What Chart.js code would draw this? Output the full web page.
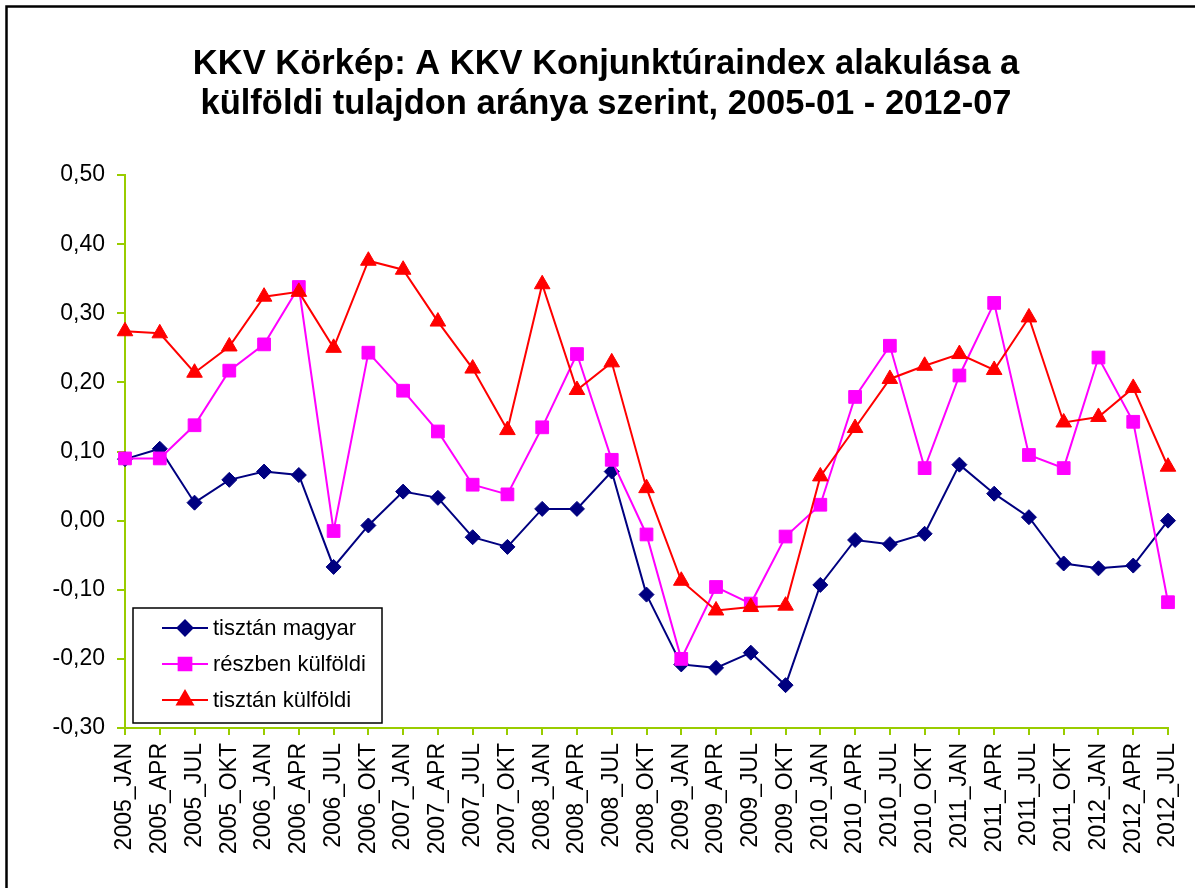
<!DOCTYPE html>
<html>
<head>
<meta charset="utf-8">
<script src="https://cdn.jsdelivr.net/npm/chart.js@4/dist/chart.umd.min.js"></script>
<style>
  html, body { margin: 0; padding: 0; background: #fff; }
  canvas { display: block; }
</style>
</head>
<body>
<canvas id="chart" width="1195" height="888"></canvas>
<script>
const categories = [
  "2005_JAN", "2005_APR", "2005_JUL", "2005_OKT",
  "2006_JAN", "2006_APR", "2006_JUL", "2006_OKT",
  "2007_JAN", "2007_APR", "2007_JUL", "2007_OKT",
  "2008_JAN", "2008_APR", "2008_JUL", "2008_OKT",
  "2009_JAN", "2009_APR", "2009_JUL", "2009_OKT",
  "2010_JAN", "2010_APR", "2010_JUL", "2010_OKT",
  "2011_JAN", "2011_APR", "2011_JUL", "2011_OKT",
  "2012_JAN", "2012_APR", "2012_JUL",
];

const tisztanMagyar = [
  0.089, 0.104, 0.026, 0.059,
  0.071, 0.066, -0.067, -0.007,
  0.042, 0.033, -0.024, -0.038,
  0.017, 0.017, 0.071, -0.107,
  -0.208, -0.213, -0.191, -0.238,
  -0.093, -0.028, -0.034, -0.019,
  0.081, 0.039, 0.005, -0.062,
  -0.069, -0.065, 0.0,
];

const reszbenKulfoldi = [
  0.09, 0.09, 0.138, 0.217,
  0.255, 0.338, -0.015, 0.243,
  0.188, 0.129, 0.052, 0.038,
  0.135, 0.241, 0.088, -0.02,
  -0.2, -0.096, -0.12, -0.023,
  0.023, 0.179, 0.253, 0.076,
  0.21, 0.315, 0.095, 0.076,
  0.236, 0.143, -0.118,
];

const tisztanKulfoldi = [
  0.274, 0.271, 0.214, 0.252,
  0.324, 0.331, 0.25, 0.376,
  0.363, 0.288, 0.22, 0.131,
  0.342, 0.189, 0.229, 0.047,
  -0.087, -0.13, -0.125, -0.123,
  0.064, 0.134, 0.205, 0.224,
  0.241, 0.218, 0.294, 0.142,
  0.15, 0.192, 0.078,
];

const yMin = -0.3;
const yMax = 0.5;
const yStep = 0.1;

const titleLines = [
  "KKV Körkép: A KKV Konjunktúraindex alakulása a",
  "külföldi tulajdon aránya szerint, 2005-01 - 2012-07",
];

const axisColor = "#99cc00";
const fontFamily = "Arial, 'Liberation Sans', sans-serif";

Chart.defaults.font.family = fontFamily;
Chart.defaults.color = "#000";

const series = [
  { label: "tisztán magyar", data: tisztanMagyar, color: "#000080", pointStyle: "rectRot", radius: 7.5, order: 3 },
  { label: "részben külföldi", data: reszbenKulfoldi, color: "#ff00ff", pointStyle: "rect", radius: 9, order: 2 },
  { label: "tisztán külföldi", data: tisztanKulfoldi, color: "#ff0000", pointStyle: "triangle", radius: 9, order: 1 },
];

// outer frame of the chart object
const framePlugin = {
  id: "frame",
  beforeDraw(chart) {
    const ctx = chart.ctx;
    ctx.save();
    ctx.fillStyle = "#fff";
    ctx.fillRect(0, 0, chart.width, chart.height);
    ctx.strokeStyle = "#000";
    ctx.lineWidth = 2.5;
    ctx.strokeRect(6.5, 6.5, 1400, 1200);
    ctx.restore();
  },
};

// legend box inside the plot area, bottom left
const boxLegendPlugin = {
  id: "boxLegend",
  afterDatasetsDraw(chart) {
    const { ctx, chartArea } = chart;
    const x0 = chartArea.left + 8;
    const y0 = chartArea.bottom - 120;
    const w = 249;
    const h = 115;
    ctx.save();
    ctx.fillStyle = "#fff";
    ctx.fillRect(x0, y0, w, h);
    ctx.strokeStyle = "#000";
    ctx.lineWidth = 1.5;
    ctx.strokeRect(x0, y0, w, h);

    ctx.font = "22px " + fontFamily;
    ctx.textBaseline = "middle";
    ctx.textAlign = "left";
    series.forEach((s, i) => {
      const y = y0 + 20 + i * 36;
      ctx.strokeStyle = s.color;
      ctx.lineWidth = 2;
      ctx.beginPath();
      ctx.moveTo(x0 + 29, y);
      ctx.lineTo(x0 + 75, y);
      ctx.stroke();
      ctx.fillStyle = s.color;
      Chart.helpers.drawPoint(ctx, {
        pointStyle: s.pointStyle,
        radius: s.radius,
        rotation: 0,
        borderWidth: 1,
      }, x0 + 52, y);
      ctx.fill();
      ctx.fillStyle = "#000";
      ctx.fillText(s.label, x0 + 80, y + 1);
    });
    ctx.restore();
  },
};

new Chart(document.getElementById("chart"), {
  type: "line",
  data: {
    labels: categories,
    datasets: series.map((s) => ({
      label: s.label,
      data: s.data,
      borderColor: s.color,
      backgroundColor: s.color,
      borderWidth: 2,
      pointStyle: s.pointStyle,
      pointRadius: s.radius,
      pointBackgroundColor: s.color,
      pointBorderColor: s.color,
      pointBorderWidth: 1,
      tension: 0,
      fill: false,
      clip: false,
      order: s.order,
    })),
  },
  options: {
    responsive: false,
    animation: false,
    devicePixelRatio: 1,
    layout: {
      padding: { left: 44, right: 27, top: 0, bottom: 0 },
    },
    plugins: {
      legend: { display: false },
      tooltip: { enabled: false },
      title: {
        display: true,
        text: titleLines,
        color: "#000",
        font: { size: 34.5, weight: "bold", lineHeight: 1.16 },
        padding: { top: 44, bottom: 51 },
      },
    },
    scales: {
      x: {
        offset: false,
        afterFit: (scale) => {
          scale.height = 160;
          scale.paddingLeft = 0;
          scale.paddingRight = 0;
        },
        border: { display: true, color: axisColor, width: 2 },
        grid: {
          drawOnChartArea: false,
          drawTicks: true,
          tickLength: 7,
          color: axisColor,
          lineWidth: 2,
        },
        ticks: {
          autoSkip: false,
          maxRotation: 90,
          minRotation: 90,
          padding: 8,
          color: "#000",
          font: { size: 23 },
        },
      },
      y: {
        min: yMin,
        max: yMax,
        afterFit: (scale) => { scale.width = 81; },
        border: { display: true, color: axisColor, width: 2 },
        grid: {
          drawOnChartArea: false,
          drawTicks: true,
          tickLength: 8,
          color: axisColor,
          lineWidth: 2,
        },
        ticks: {
          stepSize: yStep,
          padding: 12,
          color: "#000",
          font: { size: 23 },
          callback: (v) => Number(v).toFixed(2).replace(".", ","),
        },
      },
    },
  },
  plugins: [framePlugin, boxLegendPlugin],
});
</script>
</body>
</html>
